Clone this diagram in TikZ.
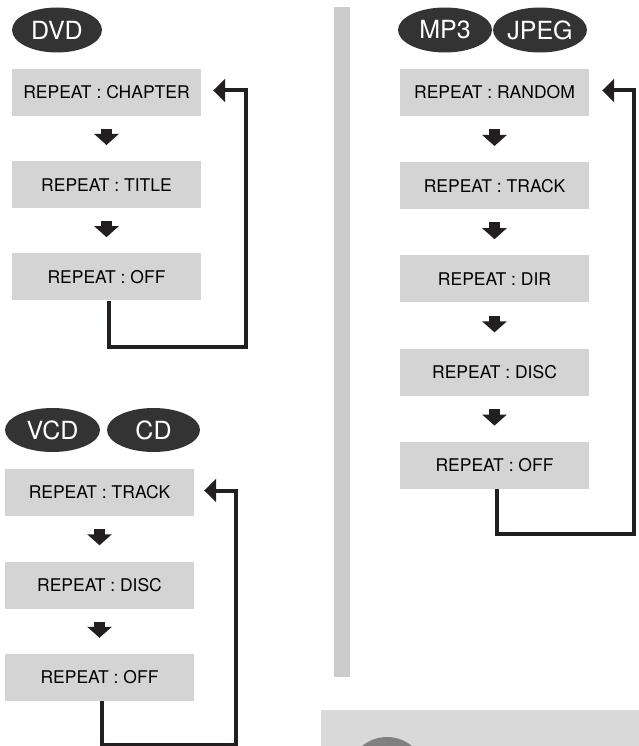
\documentclass[tikz,border=0pt]{standalone}
\usepackage{fontspec}
\setsansfont{TeX Gyre Heros}
\usetikzlibrary{shapes.geometric,arrows.meta,positioning}
\definecolor{boxgray}{HTML}{D4D4D4}
\definecolor{bargray}{HTML}{CCCCCC}
\definecolor{notegray}{HTML}{D9D9D9}
\definecolor{discblack}{HTML}{333333}
\definecolor{inkblack}{HTML}{231F20}

\begin{document}
\begin{tikzpicture}[x=1pt,y=-1pt,
  modebox/.style={fill=boxgray,minimum width=189pt,minimum height=47pt,inner sep=0pt,
    text=black,font=\sffamily\fontsize{17.5}{19}\selectfont},
  disc/.style={ellipse,fill=discblack,text=white,minimum width=94pt,minimum height=45pt,
    inner sep=0pt,font=\sffamily\fontsize{25}{27}\selectfont},
  steparrow/.style={draw=inkblack,line width=11pt,-{Triangle[width=24pt,length=11pt]},
    shorten <=13pt,shorten >=16pt},
  backline/.style={draw=inkblack,line width=4pt,-{Triangle[width=23pt,length=12pt]}}]
 \useasboundingbox (0,0) rectangle (639,746);
 \fill[bargray] (334,7) rectangle (350,677);
 \fill[notegray] (321,710) rectangle (639,746);
 \begin{scope}
  \clip (321,710) rectangle (639,746);
  \fill[gray] (387,776) circle[radius=39pt];
 \end{scope}
 \node[disc,minimum width=90pt] (dvd) at (57,30) {DVD};
 \node[disc] (mp3) at (445,30) {MP3};
 \node[disc] (jpeg) at (540,30) {JPEG};
 \node[disc,minimum width=95pt,minimum height=44pt] (vcd) at (52.5,430) {VCD};
 \node[disc,minimum width=93pt,minimum height=44pt] (cd) at (153.5,430) {CD};
 \foreach \t [count=\i] in {CHAPTER,TITLE,OFF}
   \node[modebox] (dvd\i) at (106.5,{92.5+92.2*(\i-1)}) {REPEAT : \t};
 \foreach \t [count=\i] in {RANDOM,TRACK,DIR,DISC,OFF}
   \node[modebox] (mp\i) at (494.5,{92.5+93.2*(\i-1)}) {REPEAT : \t};
 \foreach \t [count=\i] in {TRACK,DISC,OFF}
   \node[modebox] (vcd\i) at (99.5,{492.5+92.5*(\i-1)}) {REPEAT : \t};
 \foreach \i/\j in {1/2,2/3}
   \draw[steparrow] (dvd\i) -- (dvd\j);
 \foreach \i/\j in {1/2,2/3,3/4,4/5}
   \draw[steparrow] (mp\i) -- (mp\j);
 \foreach \i/\j in {1/2,2/3}
   \draw[steparrow] (vcd\i) -- (vcd\j);
 \draw[backline] ([xshift=2pt]dvd3.south) -- ++(0,46) -| ([xshift=45pt,yshift=2pt]dvd1.east)
   -- ([xshift=12pt,yshift=2pt]dvd1.east);
 \draw[backline] ([xshift=2pt]mp5.south) -- ++(0,45) -| ([xshift=45pt,yshift=2pt]mp1.east)
   -- ([xshift=13pt,yshift=2pt]mp1.east);
 \draw[backline] ([xshift=2pt]vcd3.south) -- ++(0,44) -| ([xshift=42pt,yshift=2pt]vcd1.east)
   -- ([xshift=10pt,yshift=2pt]vcd1.east);
\end{tikzpicture}
\end{document}
